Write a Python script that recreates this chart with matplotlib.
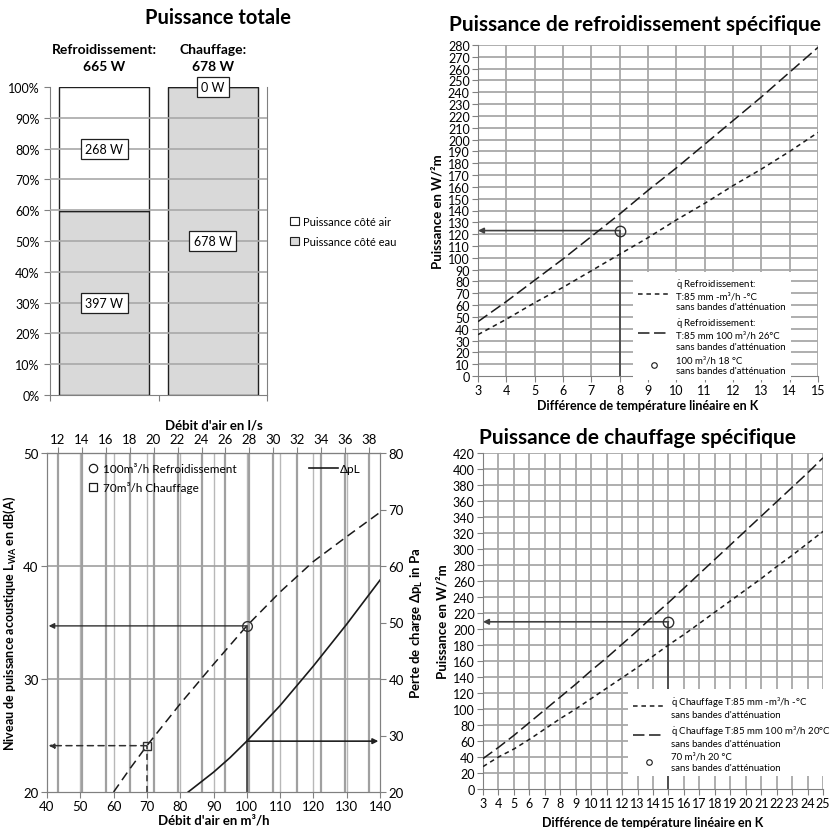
import matplotlib
matplotlib.use('Agg')
import matplotlib.pyplot as plt
from matplotlib.lines import Line2D
from matplotlib.patches import Patch

plt.rcParams['font.family'] = ['Lato', 'DejaVu Sans']
plt.rcParams['mathtext.default'] = 'regular'

# ---------------- data ----------------
# Panel 1 : Puissance totale
categories = ['Refroidissement', 'Chauffage']
power_water = [397, 678]
power_air = [268, 0]

# Panel 2 : Puissance de refroidissement spécifique
dT_cool = [3, 4, 5, 6, 7, 8, 9, 10, 11, 12, 13, 14, 15]
q_cool_nom = [35, 48, 62, 75, 89, 103, 117, 132, 146, 161, 175, 190, 206]
q_cool_100 = [46, 63, 81, 99, 118, 137, 157, 176, 196, 216, 236, 257, 278]
op_cool_dT = 8
op_cool_q = 123

# Panel 3 : acoustic / pressure loss
flow_lwa = [60, 65, 70, 80, 90, 100, 110, 120, 130, 140]
lwa = [20.0, 22.1, 24.1, 27.8, 31.3, 34.7, 37.7, 40.4, 42.6, 44.75]
flow_dp = [82.4, 90, 95, 100, 110, 120, 130, 140]
dp = [20.0, 23.5, 26.1, 29.0, 35.3, 42.3, 49.7, 57.5]
op_flow_cool, op_lwa_cool = 100, 34.7
op_flow_heat, op_lwa_heat = 70, 24.1
op_dp = 29.0
ls_ticks = [12, 14, 16, 18, 20, 22, 24, 26, 28, 30, 32, 34, 36, 38]

# Panel 4 : Puissance de chauffage spécifique
dT_heat = list(range(3, 26))
q_heat_nom = [28, 40, 50, 62, 75, 88, 100, 113, 126, 139, 152, 166, 180, 193,
              207, 221, 235, 249, 263, 278, 292, 307, 322]
q_heat_100 = [38, 52, 67, 83, 99, 115, 131, 148, 164, 181, 198, 216, 233, 251,
              269, 287, 305, 323, 341, 359, 377, 395, 414]
op_heat_dT = 15
op_heat_q = 209

# ---------------- figure ----------------
W, H = 830, 829
fig = plt.figure(figsize=(W / 100, H / 100), dpi=100)

def box(l, t, r, b):
    return [l / W, 1 - b / H, (r - l) / W, (b - t) / H]

GRID = '#a8a8a8'
SPINE = '#808080'
TXT = '#1a1a1a'
short_dash = (0, (3.0, 2.5))
long_dash = (0, (7.5, 3.0))
QDOT = '$\\dot{q}$'

# ---------------- Panel 1 ----------------
ax1 = fig.add_axes(box(50, 88, 267, 396))
x = [0, 1]
totals = [a + b for a, b in zip(power_water, power_air)]
pw = [100 * w / t for w, t in zip(power_water, totals)]
pa = [100 * a / t for a, t in zip(power_air, totals)]
ax1.bar(x, pw, width=0.83, color='#d9d9d9', edgecolor='#202020', lw=1.0, zorder=2)
ax1.bar(x, pa, bottom=pw, width=0.83, color='white', edgecolor='#202020', lw=1.0, zorder=2)
ax1.set_xlim(-0.5, 1.5)
ax1.set_ylim(0, 100)
ax1.set_yticks(range(0, 101, 10))
ax1.set_yticklabels([f'{v}%' for v in range(0, 101, 10)], fontsize=9)
ax1.set_xticks([-0.5, 0.5, 1.5])
ax1.set_xticklabels([])
ax1.tick_params(axis='x', length=4, color=SPINE, direction='out')
ax1.tick_params(axis='y', length=4, color=SPINE)
for yv in range(10, 100, 10):
    ax1.axhline(yv, color=GRID, lw=1.2, zorder=3)
for s in ax1.spines.values():
    s.set_color(SPINE)
ax1.spines['top'].set_visible(False)
bbox_kw = dict(boxstyle='square,pad=0.35', fc='white', ec='#202020', lw=0.9)
for i in range(2):
    if power_air[i] > 0:
        ax1.text(x[i], pw[i] + pa[i] / 2, f'{power_air[i]} W', ha='center', va='center',
                 fontsize=9, bbox=bbox_kw, zorder=5)
    else:
        ax1.text(x[i], 100, f'{power_air[i]} W', ha='center', va='center',
                 fontsize=9, bbox=bbox_kw, zorder=5)
    ax1.text(x[i], pw[i] / 2, f'{power_water[i]} W', ha='center', va='center',
             fontsize=9, bbox=bbox_kw, zorder=5)
    ax1.text(x[i], 1.05, f'{categories[i]}:\n{totals[i]} W', transform=ax1.get_xaxis_transform(),
             ha='center', va='bottom', fontsize=10, fontweight='bold', linespacing=1.5)
fig.text(218 / W, 1 - 18 / H, 'Puissance totale', ha='center', va='center',
         fontsize=14.5, fontweight='bold')
h1 = [Patch(fc='white', ec='#202020', lw=0.8), Patch(fc='#d9d9d9', ec='#202020', lw=0.8)]
fig.legend(h1, ['Puissance côté air', 'Puissance côté eau'], loc='upper left',
           bbox_to_anchor=(280 / W, 1 - 207 / H), frameon=False, fontsize=8,
           handlelength=0.8, handleheight=0.8, handletextpad=0.4, labelspacing=0.8)

# ---------------- helper for specific power panels ----------------
def specific_panel(rect, xs, y_nom, y_100, op_x, op_y, xlim, ylim, ystep, xlabel,
                   labels, legend_xy, lspacing):
    ax = fig.add_axes(box(*rect))
    ax.set_xlim(*xlim)
    ax.set_ylim(*ylim)
    ax.set_xticks(range(xlim[0], xlim[1] + 1))
    ax.set_yticks(range(ylim[0], ylim[1] + 1, ystep))
    ax.tick_params(labelsize=9, length=4, color=SPINE, pad=2)
    for xv in range(xlim[0] + 1, xlim[1] + 1):
        ax.axvline(xv, color=GRID, lw=1.3, zorder=0)
    for yv in range(ylim[0] + ystep, ylim[1] + 1, ystep):
        ax.axhline(yv, color=GRID, lw=1.3, zorder=0)
    for k in ['top', 'right']:
        ax.spines[k].set_visible(False)
    for k in ['left', 'bottom']:
        ax.spines[k].set_color(SPINE)
    l1, = ax.plot(xs, y_nom, color=TXT, lw=1.1, ls=short_dash, zorder=3)
    l2, = ax.plot(xs, y_100, color=TXT, lw=1.1, ls=long_dash, zorder=3)
    ax.plot([op_x, op_x], [ylim[0], op_y], color='#404040', lw=1.2, zorder=2)
    ax.annotate('', xy=(xlim[0], op_y), xytext=(op_x, op_y),
                arrowprops=dict(arrowstyle='-|>', color='#404040', lw=1.2,
                                mutation_scale=8, shrinkA=0, shrinkB=0), zorder=2)
    ax.plot([op_x], [op_y], marker='o', ms=7.5, mfc='none', mec='#303030', mew=1.0, zorder=4)
    mk = Line2D([], [], marker='o', ls='none', ms=4, mfc='none', mec=TXT, mew=0.8)
    lx, ly = legend_xy
    leg = ax.legend([l1, l2, mk], labels, loc='upper left',
                    bbox_to_anchor=((lx - rect[0]) / (rect[2] - rect[0]),
                                    (rect[3] - ly) / (rect[3] - rect[1])),
                    fontsize=6.9, frameon=True, framealpha=1, edgecolor='none',
                    fancybox=False, handlelength=3.3, handletextpad=0.7,
                    labelspacing=lspacing, borderpad=0.5, borderaxespad=0)
    for t in leg.get_texts():
        t.set_linespacing(1.25)
    leg.set_zorder(10)
    ax.set_ylabel('Puissance en W/²m', fontsize=9.5, fontweight='bold', labelpad=3)
    ax.set_xlabel(xlabel, fontsize=9, fontweight='bold', labelpad=2)
    return ax

ax2 = specific_panel((478, 46, 818, 377), dT_cool, q_cool_nom, q_cool_100, op_cool_dT, op_cool_q,
                     (3, 15), (0, 280), 10, 'Différence de température linéaire en K',
                     [QDOT + ' Refroidissement:\nT:85 mm -m³/h -°C\nsans bandes d\'atténuation',
                      QDOT + ' Refroidissement:\nT:85 mm 100 m³/h 26°C\nsans bandes d\'atténuation',
                      '100 m³/h 18 °C\nsans bandes d\'atténuation'],
                     (633, 273), 0.5)
fig.text(635 / W, 1 - 25 / H, 'Puissance de refroidissement spécifique', ha='center',
         va='center', fontsize=15, fontweight='bold')

ax4 = specific_panel((483, 454, 823, 790), dT_heat, q_heat_nom, q_heat_100, op_heat_dT, op_heat_q,
                     (3, 25), (0, 420), 20, 'Différence de température linéaire en K',
                     [QDOT + ' Chauffage T:85 mm -m³/h -°C\nsans bandes d\'atténuation',
                      QDOT + ' Chauffage T:85 mm 100 m³/h 20°C\nsans bandes d\'atténuation',
                      '70 m³/h 20 °C\nsans bandes d\'atténuation'],
                     (628, 690), 0.45)
ax4.xaxis.labelpad = 5
fig.text(637 / W, 1 - 438 / H, 'Puissance de chauffage spécifique', ha='center',
         va='center', fontsize=15, fontweight='bold')

# ---------------- Panel 3 ----------------
ax3 = fig.add_axes(box(47, 454, 380, 793))
ax3.set_xlim(40, 140)
ax3.set_ylim(20, 50)
ax3.set_xticks(range(40, 141, 10))
ax3.set_yticks([20, 30, 40, 50])
ax3.tick_params(labelsize=9.5, length=4, color=SPINE, pad=2)
for k in ax3.spines.values():
    k.set_color(SPINE)
for v in range(50, 140, 10):
    ax3.axvline(v, color='#b8b8b8', lw=1.0, zorder=0)
for v in ls_ticks:
    ax3.axvline(v * 3.6, color='#a0a0a0', lw=1.6, zorder=0)
for v in [30, 40]:
    ax3.axhline(v, color='#a0a0a0', lw=1.2, zorder=0)
ax3.plot(flow_lwa, lwa, color=TXT, lw=1.1, ls=(0, (6, 3.5)), zorder=3)
ax3.plot([op_flow_cool, op_flow_cool], [20, op_lwa_cool], color='#303030', lw=1.1, zorder=2)
ax3.annotate('', xy=(40.5, op_lwa_cool), xytext=(op_flow_cool, op_lwa_cool),
             arrowprops=dict(arrowstyle='-|>', color='#303030', lw=1.0, mutation_scale=8,
                             shrinkA=0, shrinkB=0))
ax3.plot([op_flow_heat, op_flow_heat], [20, op_lwa_heat], color='#303030', lw=1.1,
         ls=(0, (4, 3)), zorder=2)
ax3.annotate('', xy=(40.5, op_lwa_heat), xytext=(op_flow_heat, op_lwa_heat),
             arrowprops=dict(arrowstyle='-|>', color='#303030', lw=1.1, ls=(0, (4, 3)),
                             mutation_scale=8, shrinkA=0, shrinkB=0))
ax3.plot([op_flow_cool], [op_lwa_cool], marker='o', ms=7, mfc='none', mec='#303030', mew=1.0, zorder=4)
ax3.plot([op_flow_heat], [op_lwa_heat], marker='s', ms=5.5, mfc='none', mec='#303030', mew=1.0, zorder=4)
ax3.set_xlabel("Débit d'air en m³/h", fontsize=9.5, fontweight='bold', labelpad=1)
ax3.set_ylabel('Niveau de puissance acoustique L$_{WA}$ en dB(A)', fontsize=9,
               fontweight='bold', labelpad=4)
hm = [Line2D([], [], marker='o', ls='none', ms=6, mfc='none', mec=TXT, mew=0.9),
      Line2D([], [], marker='s', ls='none', ms=5.5, mfc='none', mec=TXT, mew=0.9)]
ax3.legend(hm, ['100m³/h Refroidissement', '70m³/h Chauffage'], loc='upper left',
           bbox_to_anchor=(0.11, 0.985), frameon=False, fontsize=8.5, handlelength=0.8,
           handletextpad=0.4, labelspacing=0.65, borderaxespad=0)
sec = ax3.secondary_xaxis('top', functions=(lambda v: v / 3.6, lambda v: v * 3.6))
sec.set_xticks(ls_ticks)
sec.tick_params(labelsize=9.5, length=4, color=SPINE, pad=2)
sec.set_xlabel("Débit d'air en l/s", fontsize=9.5, fontweight='bold', labelpad=3)
sec.spines['top'].set_color(SPINE)

ax3r = ax3.twinx()
ax3r.set_ylim(20, 80)
ax3r.set_yticks(range(20, 81, 10))
ax3r.tick_params(labelsize=9.5, length=4, color=SPINE, pad=2)
for k in ax3r.spines.values():
    k.set_color(SPINE)
ldp, = ax3r.plot(flow_dp, dp, color=TXT, lw=1.2, zorder=3)
ax3r.annotate('', xy=(139.5, op_dp), xytext=(op_flow_cool, op_dp),
              arrowprops=dict(arrowstyle='-|>', color='#202020', lw=1.2, mutation_scale=8,
                              shrinkA=0, shrinkB=0))
ax3r.set_ylabel('Perte de charge Δp$_L$ in Pa', fontsize=9.5, fontweight='bold', labelpad=4)
ax3r.legend([ldp], ['ΔpL'], loc='upper right', bbox_to_anchor=(0.955, 0.985), frameon=False,
            fontsize=8.5, handlelength=2.5, handletextpad=0.1, borderaxespad=0)

fig.savefig('out.png', dpi=100)
